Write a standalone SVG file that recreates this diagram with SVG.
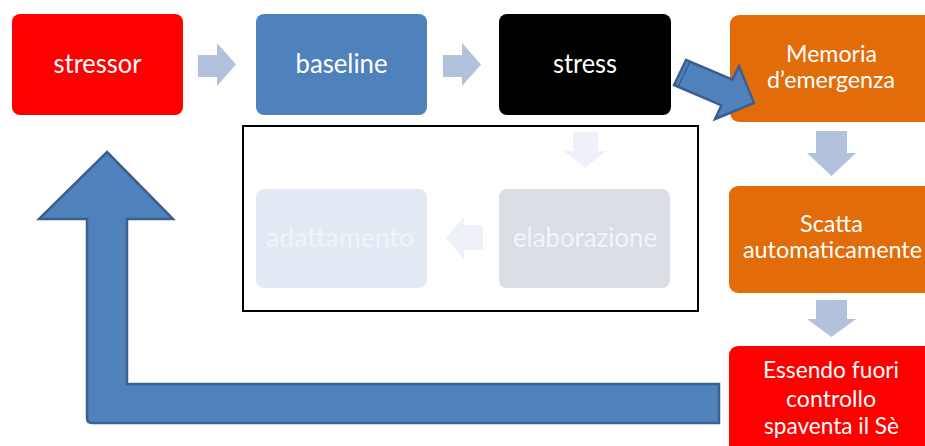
<svg xmlns="http://www.w3.org/2000/svg" width="925" height="446" viewBox="0 0 925 446">
<style>
.lbl{font-family:Lato,"Open Sans","Liberation Sans",sans-serif;fill:#fff;text-anchor:middle}
.big{font-size:26px}
.med{font-size:23px}
.faint{fill:#f1f4f9}
.arr{fill:#b2c2dc}
.farr{fill:#eef2f8}
.blue{fill:#4f81bd;stroke:#3b5f8e;stroke-width:2.5;stroke-linejoin:miter}
</style>
<rect width="925" height="446" fill="#fff"/>
<rect x="243" y="126" width="455" height="185" fill="none" stroke="#000" stroke-width="2"/>
<g id="stressor">
  <rect x="12" y="14" width="171" height="101" rx="8" fill="#ff0000"/>
  <text class="lbl big" x="97.5" y="73" textLength="88" lengthAdjust="spacingAndGlyphs">stressor</text>
</g>
<g id="baseline">
  <rect x="256" y="14" width="171" height="101" rx="8" fill="#4f81bd"/>
  <text class="lbl big" x="341.5" y="73" textLength="92" lengthAdjust="spacingAndGlyphs">baseline</text>
</g>
<g id="stress">
  <rect x="499" y="14" width="172" height="101" rx="8" fill="#000000"/>
  <text class="lbl big" x="585" y="73" textLength="64" lengthAdjust="spacingAndGlyphs">stress</text>
</g>
<g id="memoria">
  <rect x="730" y="15" width="205" height="107" rx="9" fill="#e36c0a"/>
  <text class="lbl med" x="831.5" y="62" textLength="91" lengthAdjust="spacingAndGlyphs">Memoria</text>
  <text class="lbl med" x="831" y="88" textLength="128" lengthAdjust="spacingAndGlyphs">d’emergenza</text>
</g>
<g id="scatta">
  <rect x="729" y="186" width="206" height="107" rx="9" fill="#e36c0a"/>
  <text class="lbl med" x="831.5" y="232" textLength="63" lengthAdjust="spacingAndGlyphs">Scatta</text>
  <text class="lbl med" x="832.5" y="258" textLength="179" lengthAdjust="spacingAndGlyphs">automaticamente</text>
</g>
<g id="fuori-controllo">
  <rect x="729" y="346" width="206" height="110" rx="9" fill="#ff0000"/>
  <text class="lbl med" x="831" y="378" textLength="136" lengthAdjust="spacingAndGlyphs">Essendo fuori</text>
  <text class="lbl med" x="831" y="407" textLength="90" lengthAdjust="spacingAndGlyphs">controllo</text>
  <text class="lbl med" x="831.5" y="434" textLength="135" lengthAdjust="spacingAndGlyphs">spaventa il Sè</text>
</g>
<g id="elaborazione">
  <rect x="499" y="189" width="171" height="99" rx="8" fill="#d9dee5"/>
  <text class="lbl big faint" x="585" y="247" textLength="144" lengthAdjust="spacingAndGlyphs">elaborazione</text>
</g>
<g id="adattamento">
  <rect x="256" y="189" width="171" height="99" rx="8" fill="#e3eaf3"/>
  <text class="lbl big faint" x="340" y="247" textLength="148" lengthAdjust="spacingAndGlyphs">adattamento</text>
</g>
<g id="connectors">
  <polygon class="arr" points="198,55 217,55 217,43 236,64.5 217,86 217,77 198,77"/>
  <polygon class="arr" points="443,55 462,55 462,43 481,64.5 462,86 462,77 443,77"/>
  <polygon class="arr" points="816,131 847,131 847,153 856,153 831.5,176 807,153 816,153"/>
  <polygon class="arr" points="816,300 847,300 847,319 856,319 831.5,337 807,319 816,319"/>
  <polygon class="farr" points="573,132 598,132 598,151 606,151 585,168 564,151 573,151"/>
  <polygon class="farr" points="483,225 464,225 464,217 446,238 464,259 464,250 483,250"/>
  <polygon class="blue" points="686,60 732.5,79.6 739,66 754,103 715,119 721.5,105.4 674,85"/>
  <line x1="690" y1="62" x2="678" y2="87" stroke="#3b5f8e" stroke-width="1.5"/>
  <path class="blue" d="M107,152 L173,219 L127,219 L127,384 L719,384 L719,423 L92,423 Q87,423 87,418 L87,219 L39,219 Z"/>
</g>
</svg>
